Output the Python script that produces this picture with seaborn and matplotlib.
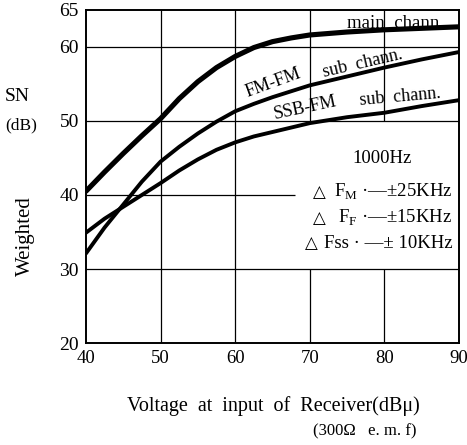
import matplotlib
matplotlib.use("Agg")
import matplotlib.pyplot as plt
import pandas as pd
import seaborn as sns

# values (S/N in dB vs receiver input in dBu)
voltage = [40, 42.5, 45, 47.5, 50, 52.5, 55, 57.5, 60, 62.5, 65, 67.5, 70, 75, 80, 85, 90]
main_chann = [40.5, 43.1, 45.6, 48.0, 50.3, 53.0, 55.3, 57.2, 58.7, 59.9, 60.7, 61.2,
              61.6, 62.0, 62.3, 62.5, 62.7]
fmfm_sub = [32.1, 35.6, 38.7, 41.8, 44.5, 46.5, 48.3, 49.9, 51.3, 52.3, 53.2, 54.0,
            54.8, 56.0, 57.2, 58.3, 59.3]
ssbfm_sub = [34.9, 36.8, 38.4, 40.0, 41.6, 43.3, 44.8, 46.1, 47.1, 47.9, 48.5, 49.1,
             49.7, 50.5, 51.1, 52.0, 52.8]

x_ticks = [40, 50, 60, 70, 80, 90]
y_ticks = [20, 30, 40, 50, 60, 65]

SERIF = ["Liberation Serif", "DejaVu Serif"]

sns.set_theme(style="white")
plt.rcParams["font.family"] = SERIF
plt.rcParams["mathtext.fontset"] = "custom"
plt.rcParams["mathtext.rm"] = "Liberation Serif"

n = len(voltage)
df = pd.DataFrame({
    "voltage": voltage * 3,
    "sn": main_chann + fmfm_sub + ssbfm_sub,
    "curve": ["main"] * n + ["fmfm"] * n + ["ssbfm"] * n,
})

fig = plt.figure(figsize=(4.67, 4.45), dpi=100)
ax = fig.add_axes([0.184, 0.229, 0.799, 0.749])

# grid drawn by hand: the original leaves gaps where the text block sits
for yv in [30, 50, 60]:
    ax.axhline(yv, color="black", lw=0.9, zorder=1)
ax.hlines(40, 40, 68, color="black", lw=0.9, zorder=1)
for xv in [50, 60]:
    ax.axvline(xv, color="black", lw=0.9, zorder=1)
ax.vlines([70, 80], 20, 30, color="black", lw=0.9, zorder=1)
ax.vlines([70, 80], 50, 65, color="black", lw=0.9, zorder=1)

widths = {"main": 3.7, "fmfm": 2.8, "ssbfm": 2.8}
for name, sub in df.groupby("curve"):
    sns.lineplot(data=sub, x="voltage", y="sn", color="black",
                 linewidth=widths[name], ax=ax, zorder=3)

ax.set_xlim(40, 90)
ax.set_ylim(20, 65)
ax.set_xticks(x_ticks)
ax.set_yticks(y_ticks)
ax.set_xlabel("")
ax.set_ylabel("")
ax.tick_params(axis="both", length=3, direction="in", color="black", labelcolor="black")
ax.tick_params(axis="x", labelsize=13.5, pad=5)
ax.tick_params(axis="y", labelsize=14, pad=5)
for sp in ax.spines.values():
    sp.set_color("black")
    sp.set_linewidth(1.4)

tk = dict(color="black", fontsize=13, zorder=4)
ax.text(88.0, 63.2, "main  chann.", ha="right", va="center", color="black", fontsize=13.5)
ax.text(65.1, 55.1, "FM-FM", rotation=20, ha="center", va="center", **tk)
ax.text(77.1, 57.8, "sub  chann.", rotation=13, ha="center", va="center", **tk)
ax.text(69.4, 51.8, "SSB-FM", rotation=12, ha="center", va="center", **tk)
ax.text(82.1, 53.2, "sub  chann.", rotation=5, ha="center", va="center", **tk)

ax.text(79.7, 44.9, "1000Hz", ha="center", va="center", color="black", fontsize=13.5)

tri = dict(color="black", fontsize=12, family="DejaVu Sans", ha="left", va="center", zorder=4)
lg = dict(color="black", fontsize=13.5, ha="right", va="center", zorder=4)
ax.text(70.4, 40.4, "△", **tri)
ax.text(89.1, 40.4, r"F$_{\mathregular{M}}$ ·—±25KHz", **lg)
ax.text(70.4, 36.9, "△", **tri)
ax.text(89.1, 36.9, r"F$_{\mathregular{F}}$ ·—±15KHz", **lg)
ax.text(69.4, 33.5, "△", **tri)
ax.text(89.1, 33.5, "Fss · —± 10KHz", **lg)

fig.text(0.038, 0.784, "SN", ha="center", va="center", fontsize=14, color="black")
fig.text(0.045, 0.719, "(dB)", ha="center", va="center", fontsize=12.5, color="black")
fig.text(0.055, 0.470, "Weighted", rotation=90, ha="center", va="center",
         fontsize=15, color="black")
fig.text(0.585, 0.088, "Voltage  at  input  of  Receiver(dBμ)", ha="center", va="center",
         fontsize=14.5, color="black")
fig.text(0.782, 0.031, "(300Ω   e. m. f)", ha="center", va="center",
         fontsize=12, color="black")

fig.savefig("out.png", dpi=100)
